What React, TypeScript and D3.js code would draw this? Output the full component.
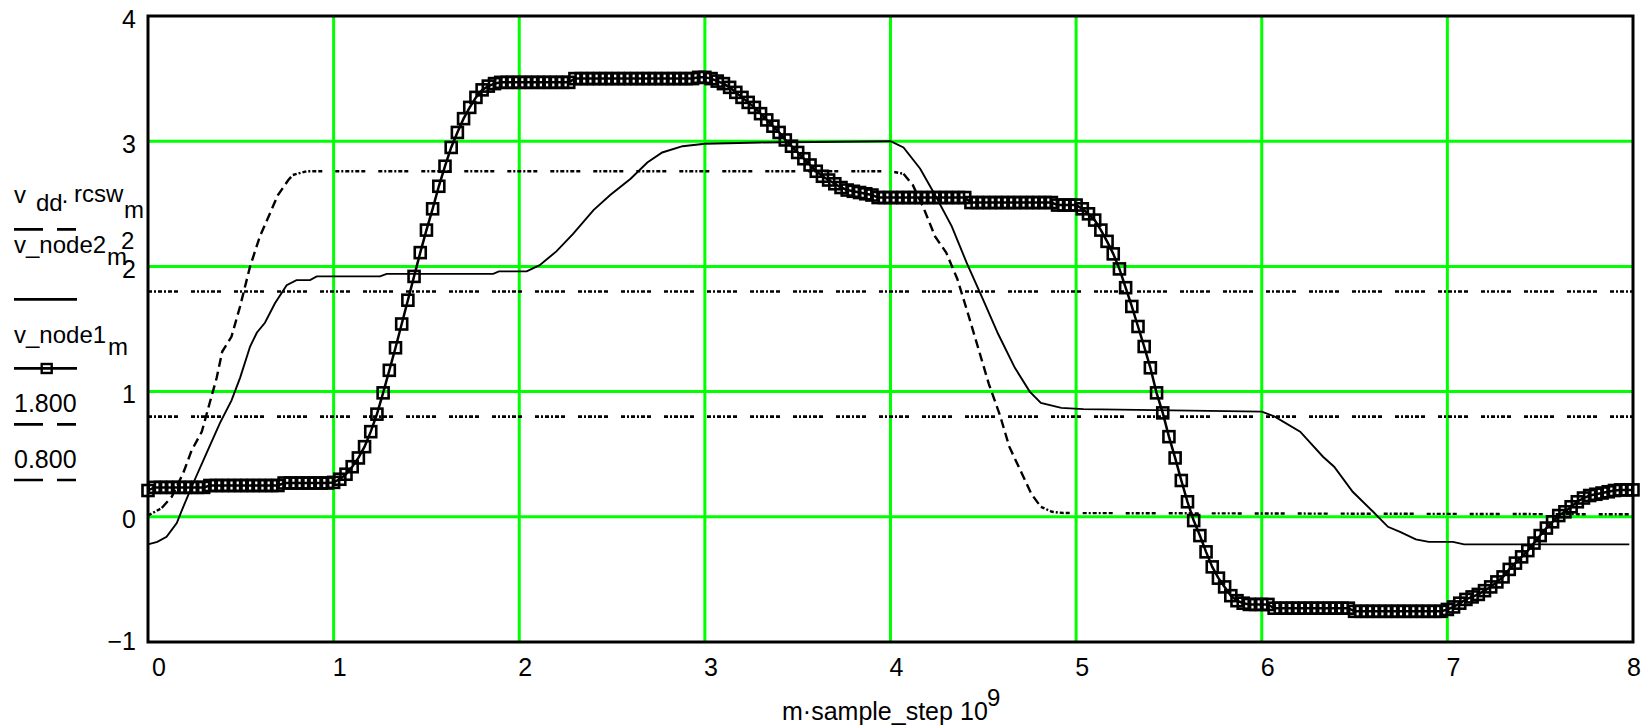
import React from 'react';
import * as d3 from 'd3';

// sample step in ns (x = m * sampleStep)
const sampleStep = 1 / 30;

// v_node1_m : one value per sample m = 0..240
const vNode1: number[] = [
  0.21, 0.235, 0.235, 0.235, 0.235, 0.235, 0.235, 0.235, 0.235, 0.235,
  0.25, 0.25, 0.25, 0.25, 0.25, 0.25, 0.25, 0.25, 0.25, 0.25,
  0.25, 0.25, 0.27, 0.27, 0.27, 0.27, 0.27, 0.27, 0.27, 0.27,
  0.275, 0.30, 0.34, 0.40, 0.47, 0.56, 0.68, 0.82, 0.99, 1.17,
  1.35, 1.54, 1.73, 1.92, 2.11, 2.29, 2.46, 2.64, 2.80, 2.95,
  3.07, 3.18, 3.27, 3.35, 3.41, 3.44, 3.46, 3.47, 3.47, 3.47,
  3.47, 3.47, 3.47, 3.47, 3.47, 3.47, 3.47, 3.47, 3.47, 3.50,
  3.50, 3.50, 3.50, 3.50, 3.50, 3.50, 3.50, 3.50, 3.50, 3.50,
  3.50, 3.50, 3.50, 3.50, 3.50, 3.50, 3.50, 3.50, 3.50, 3.51,
  3.51, 3.50, 3.48, 3.46, 3.43, 3.39, 3.35, 3.31, 3.27, 3.22,
  3.17, 3.12, 3.07, 3.01, 2.96, 2.91, 2.86, 2.81, 2.76, 2.72,
  2.69, 2.66, 2.63, 2.61, 2.60, 2.59, 2.58, 2.57, 2.55, 2.55,
  2.55, 2.55, 2.55, 2.55, 2.55, 2.55, 2.55, 2.55, 2.55, 2.55,
  2.55, 2.55, 2.55, 2.51, 2.51, 2.51, 2.51, 2.51, 2.51, 2.51,
  2.51, 2.51, 2.51, 2.51, 2.51, 2.51, 2.51, 2.49, 2.49, 2.49,
  2.49, 2.46, 2.42, 2.37, 2.29, 2.20, 2.10, 1.98, 1.83, 1.68,
  1.52, 1.36, 1.19, 0.99, 0.83, 0.64, 0.47, 0.29, 0.12, -0.03,
  -0.15, -0.28, -0.40, -0.49, -0.56, -0.63, -0.67, -0.69, -0.70, -0.70,
  -0.70, -0.70, -0.73, -0.73, -0.73, -0.73, -0.73, -0.73, -0.73, -0.73,
  -0.73, -0.73, -0.73, -0.73, -0.73, -0.755, -0.755, -0.755, -0.755, -0.755,
  -0.755, -0.755, -0.755, -0.755, -0.755, -0.755, -0.755, -0.755, -0.755, -0.755,
  -0.74, -0.72, -0.69, -0.66, -0.64, -0.62, -0.59, -0.56, -0.52, -0.48,
  -0.42, -0.37, -0.32, -0.27, -0.21, -0.15, -0.09, -0.04, 0.01, 0.04,
  0.08, 0.12, 0.15, 0.17, 0.18, 0.19, 0.20, 0.21, 0.215, 0.215,
  0.215,
];

// v_node2_m (read as breakpoints)
const vNode2X = [0, 0.05, 0.1, 0.155, 0.19, 0.244, 0.316, 0.388, 0.45, 0.496, 0.55, 0.586, 0.63, 0.684, 0.747, 0.8, 0.873, 0.909, 1.25, 1.286, 1.86, 1.89, 2.04, 2.11, 2.2, 2.29, 2.4, 2.49, 2.6, 2.69, 2.77, 2.88, 3.0, 3.3, 4.0, 4.07, 4.16, 4.24, 4.33, 4.41, 4.5, 4.58, 4.67, 4.75, 4.81, 4.92, 5.04, 6.0, 6.07, 6.207, 6.33, 6.39, 6.49, 6.6, 6.68, 6.745, 6.83, 6.9, 7.03, 7.09, 7.98];
const vNode2Y = [-0.22, -0.2, -0.16, -0.05, 0.08, 0.27, 0.51, 0.75, 0.93, 1.11, 1.36, 1.47, 1.55, 1.705, 1.85, 1.89, 1.89, 1.92, 1.92, 1.94, 1.94, 1.96, 1.96, 2.01, 2.12, 2.26, 2.45, 2.57, 2.7, 2.83, 2.91, 2.96, 2.98, 2.99, 3.0, 2.95, 2.78, 2.57, 2.32, 2.03, 1.73, 1.46, 1.19, 1.0, 0.91, 0.87, 0.86, 0.84, 0.8, 0.68, 0.48, 0.4, 0.2, 0.04, -0.08, -0.12, -0.18, -0.2, -0.2, -0.22, -0.22];

// v_dd * rcsw_m (read as breakpoints)
const vddX = [0, 0.074, 0.128, 0.19, 0.235, 0.29, 0.325, 0.37, 0.4, 0.45, 0.496, 0.55, 0.603, 0.7, 0.756, 0.78, 0.855, 4.0, 4.07, 4.12, 4.18, 4.24, 4.3, 4.36, 4.42, 4.47, 4.53, 4.59, 4.64, 4.7, 4.76, 4.81, 4.87, 4.93, 8.0];
const vddY = [0.01, 0.07, 0.16, 0.35, 0.53, 0.68, 0.87, 1.11, 1.32, 1.44, 1.68, 2.0, 2.24, 2.57, 2.69, 2.73, 2.76, 2.76, 2.74, 2.65, 2.46, 2.24, 2.11, 1.9, 1.61, 1.36, 1.06, 0.81, 0.56, 0.37, 0.18, 0.08, 0.04, 0.03, 0.02];

const refLevels = [1.8, 0.8];
const xTicks = [0, 1, 2, 3, 4, 5, 6, 7, 8];
const yTicks = [-1, 0, 1, 2, 3, 4];
const legendNames = ['1.800', '0.800'];

const FONT = 'Liberation Sans, Arial, Helvetica, sans-serif';
const GREEN = '#00ff00';
const DOTDASH = '4 2 2 2 4 2 2 2 4 2 4 13';
const SLOPEDASH = '9 5';

export default function App() {
  const x = d3.scaleLinear().domain([0, 8]).range([148, 1633]);
  const y = d3.scaleLinear().domain([-1, 4]).range([642, 16]);

  const line = d3.line<[number, number]>().x(d => x(d[0])).y(d => y(d[1]));

  const n1: [number, number][] = vNode1.map((v, m) => [m * sampleStep, v]);
  const n2: [number, number][] = vNode2X.map((xv, i) => [xv, vNode2Y[i]]);
  const vd: [number, number][] = vddX.map((xv, i) => [xv, vddY[i]]);

  // split v_dd into flat and steep runs (line style appearance differs)
  const runs: { pts: [number, number][]; steep: boolean }[] = [];
  for (let i = 0; i < vd.length - 1; i++) {
    const a = vd[i], b = vd[i + 1];
    const steep = Math.abs((b[1] - a[1]) / (b[0] - a[0])) > 1.2;
    const last = runs[runs.length - 1];
    if (last && last.steep === steep) last.pts.push(b);
    else runs.push({ pts: [a, b], steep });
  }

  const [xMin, xMax] = x.domain();
  const [yMin, yMax] = y.domain();

  return (
    <svg width={1648} height={727} style={{ position: 'absolute', left: 0, top: 0, background: '#fff' }} fontFamily={FONT}>
      <rect x={0} y={0} width={1648} height={727} fill="#fff" />
      {/* grid */}
      {xTicks.filter(t => t > xMin && t < xMax).map(t => (
        <line key={'gx' + t} x1={x(t)} x2={x(t)} y1={y(yMax)} y2={y(yMin)} stroke={GREEN} strokeWidth={3} />
      ))}
      {yTicks.filter(t => t > yMin && t < yMax).map(t => (
        <line key={'gy' + t} x1={x(xMin)} x2={x(xMax)} y1={y(t)} y2={y(t)} stroke={GREEN} strokeWidth={3} />
      ))}

      {/* reference levels */}
      {refLevels.map(l => (
        <path key={'r' + l} d={line([[xMin, l], [xMax, l]]) || ''} fill="none" stroke="#000" strokeWidth={2.6} strokeDasharray={DOTDASH} />
      ))}

      {/* v_dd * rcsw */}
      {runs.map((r, i) => (
        <path key={'vd' + i} d={line(r.pts) || ''} fill="none" stroke="#000" strokeWidth={2.4}
          strokeDasharray={r.steep ? SLOPEDASH : DOTDASH} />
      ))}

      {/* v_node2 */}
      <path d={line(n2) || ''} fill="none" stroke="#000" strokeWidth={1.9} />

      {/* v_node1 */}
      <path d={line(n1) || ''} fill="none" stroke="#000" strokeWidth={2.5} />
      {n1.map((d, i) => (
        <rect key={'m' + i} x={x(d[0]) - 5.5} y={y(d[1]) - 5.5} width={11} height={11} fill="none" stroke="#000" strokeWidth={2.6} />
      ))}

      {/* frame */}
      <rect x={x(xMin)} y={y(yMax)} width={x(xMax) - x(xMin)} height={y(yMin) - y(yMax)} fill="none" stroke="#000" strokeWidth={3} />

      {/* y tick labels */}
      {yTicks.map(t => (
        <text key={'yl' + t} x={136} y={t === -1 ? 650 : y(t) + 11.5} textAnchor="end" fontSize={25} fill="#000">
          {t < 0 ? '\u2212' + Math.abs(t) : String(t)}
        </text>
      ))}

      {/* x tick labels */}
      {xTicks.map(t => (
        <text key={'xl' + t} x={x(t) + (t === 0 ? 4 : t === 8 ? -6 : -1)} y={676} textAnchor="start" fontSize={25} fill="#000">
          {String(t)}
        </text>
      ))}

      {/* x axis title */}
      <text x={782} y={720} fontSize={25} fill="#000">m·sample_step</text>
      <text x={960} y={720} fontSize={25} fill="#000">10</text>
      <text x={987} y={706} fontSize={24} fill="#000">9</text>

      {/* legend */}
      <g fill="#000" fontSize={24}>
        <text x={14} y={203}>v</text>
        <text x={36} y={211}>dd</text>
        <text x={61} y={208}>·</text>
        <text x={74} y={202}>rcsw</text>
        <text x={124} y={218}>m</text>
        <line x1={14} x2={76} y1={229.3} y2={229.3} stroke="#000" strokeWidth={2.7} strokeDasharray="29 14" />

        <text x={14} y={253}>v_node2</text>
        <text x={107} y={265}>m</text>
        <text x={121} y={249}>2</text>
        <line x1={14} x2={77} y1={299.3} y2={299.3} stroke="#000" strokeWidth={2.7} />

        <text x={14} y={343.3}>v_node1</text>
        <text x={108} y={355}>m</text>
        <line x1={14} x2={77} y1={368.3} y2={368.3} stroke="#000" strokeWidth={2.7} />
        <rect x={41.7} y={364} width={10} height={9} fill="none" stroke="#000" strokeWidth={2.4} />

        <text x={14} y={411.7} fontSize={25}>{legendNames[0]}</text>
        <line x1={14} x2={76} y1={424.3} y2={424.3} stroke="#000" strokeWidth={2.7} strokeDasharray="29 14" />
        <text x={14} y={468.3} fontSize={25}>{legendNames[1]}</text>
        <line x1={14} x2={76} y1={480} y2={480} stroke="#000" strokeWidth={2.7} strokeDasharray="29 14" />
      </g>
    </svg>
  );
}
